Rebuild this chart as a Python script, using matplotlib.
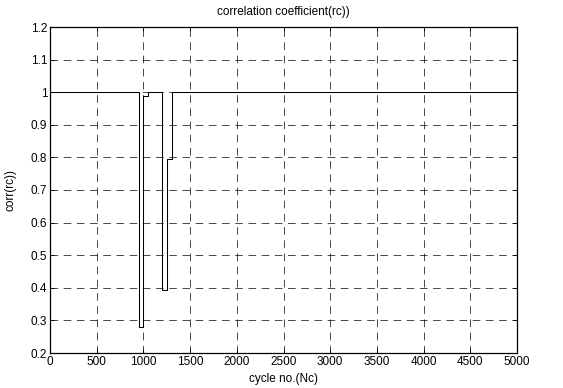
"""
Correlation coefficient vs cycle number (step trace with two drops).
"""
import matplotlib
matplotlib.use("Agg")
import matplotlib.pyplot as plt

plt.rcParams["font.family"] = ["Liberation Sans", "DejaVu Sans"]

# breakpoints of the step trace (value held until next breakpoint)
cycle_no = [0, 956, 1000, 1050, 1204, 1252, 1306, 5000]
corr_rc = [1.0, 0.28, 0.988, 1.0, 0.393, 0.796, 1.0, 1.0]

x_ticks = [0, 500, 1000, 1500, 2000, 2500, 3000, 3500, 4000, 4500, 5000]
y_ticks = [0.2, 0.3, 0.4, 0.5, 0.6, 0.7, 0.8, 0.9, 1.0, 1.1, 1.2]
y_tick_labels = ["0.2", "0.3", "0.4", "0.5", "0.6", "0.7", "0.8", "0.9", "1", "1.1", "1.2"]

fig = plt.figure(figsize=(5.63, 3.88), dpi=100)
ax = fig.add_axes([50 / 563, 1 - 353 / 388, 467 / 563, 326 / 388])

ax.plot(cycle_no, corr_rc, color="k", lw=0.75, drawstyle="steps-post")

ax.set_xlim(0, 5000); ax.set_ylim(0.2, 1.2)
ax.set_xticks(x_ticks); ax.set_xticklabels([str(v) for v in x_ticks])
ax.set_yticks(y_ticks); ax.set_yticklabels(y_tick_labels)
ax.tick_params(direction="in", top=True, right=True, length=3, width=0.6,
               labelsize=8.5, pad=2)
ax.grid(True, color="k", linestyle=(0, (11, 8)), linewidth=0.5)
for s in ax.spines.values():
    s.set_linewidth(0.9)

ax.set_title("correlation coefficient(rc))", fontsize=8.5, pad=9)
ax.set_xlabel("cycle no.(Nc)", fontsize=8.5, labelpad=4)
ax.set_ylabel("corr(rc))", fontsize=8.5, labelpad=10)

fig.savefig("out.png", dpi=100)
